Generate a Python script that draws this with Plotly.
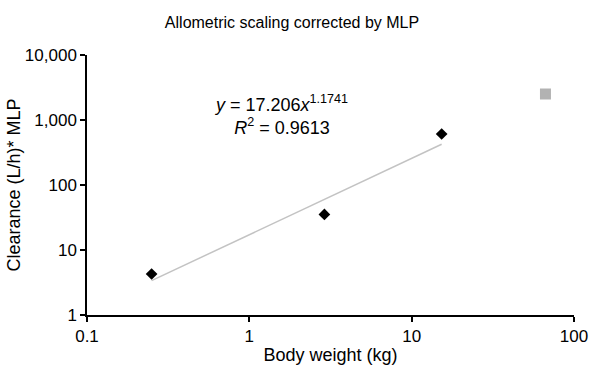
import numpy as np
import plotly.graph_objects as go

# Data
body_weight = [0.25, 2.9, 15.3]          # kg (species used for the fit)
clearance = [4.27, 35.3, 609]            # (L/h)*MLP
human_weight = [66.7]                    # kg (predicted point)
human_clearance = [2512]
fit_coef = 17.206
fit_exp = 1.1741
x_ticks = [0.1, 1, 10, 100]
x_ticklabels = ["0.1", "1", "10", "100"]
y_ticks = [1, 10, 100, 1000, 10000]
y_ticklabels = ["1", "10", "100", "1,000", "10,000"]

fit_x = np.array([min(body_weight), max(body_weight)])
fit_y = fit_coef * fit_x ** fit_exp

FONT = "Liberation Sans, Arial, Helvetica, sans-serif"

fig = go.Figure()
fig.add_trace(go.Scatter(x=fit_x, y=fit_y, mode="lines",
                         line=dict(color="#c3c3c3", width=1.5),
                         showlegend=False, hoverinfo="skip"))
fig.add_trace(go.Scatter(x=body_weight, y=clearance, mode="markers",
                         marker=dict(symbol="diamond", size=9, color="black"),
                         showlegend=False))
fig.add_trace(go.Scatter(x=human_weight, y=human_clearance, mode="markers",
                         marker=dict(symbol="square", size=11, color="#b2b2b2"),
                         showlegend=False))

fig.add_annotation(
    x=np.log10(1.57), y=np.log10(1200), xref="x", yref="y",
    text="<i>y</i> = 17.206<i>x</i><sup>1.1741</sup><br><i>R</i><sup>2</sup> = 0.9613",
    showarrow=False, align="center", font=dict(size=18, color="black", family=FONT))

fig.update_layout(
    width=590, height=365,
    margin=dict(l=87, r=16, t=55, b=50),
    paper_bgcolor="white", plot_bgcolor="white",
    font=dict(family=FONT, size=16, color="black"),
    title=dict(text="Allometric scaling corrected by MLP", x=292/590, xanchor="center",
               y=1 - 22/365, yanchor="middle", yref="container",
               font=dict(size=16, color="black", family=FONT)),
)
fig.update_xaxes(type="log", range=[-1, 2], tickvals=x_ticks, ticktext=x_ticklabels,
                 showgrid=False, zeroline=False, showline=True, linecolor="black",
                 linewidth=1.5, ticks="outside", ticklen=5, tickwidth=1.5, tickcolor="black",
                 tickfont=dict(size=17), automargin=False,
                 title=dict(text="Body weight (kg)", font=dict(size=18), standoff=4))
fig.update_yaxes(type="log", range=[0, 4], tickvals=y_ticks, ticktext=y_ticklabels,
                 showgrid=False, zeroline=False, showline=True, linecolor="black",
                 linewidth=1.5, ticks="outside", ticklen=5, tickwidth=1.5, tickcolor="black",
                 tickfont=dict(size=17), automargin=False,
                 title=dict(text="Clearance (L/h)* MLP", font=dict(size=18), standoff=0))

fig.write_html("out.html")
